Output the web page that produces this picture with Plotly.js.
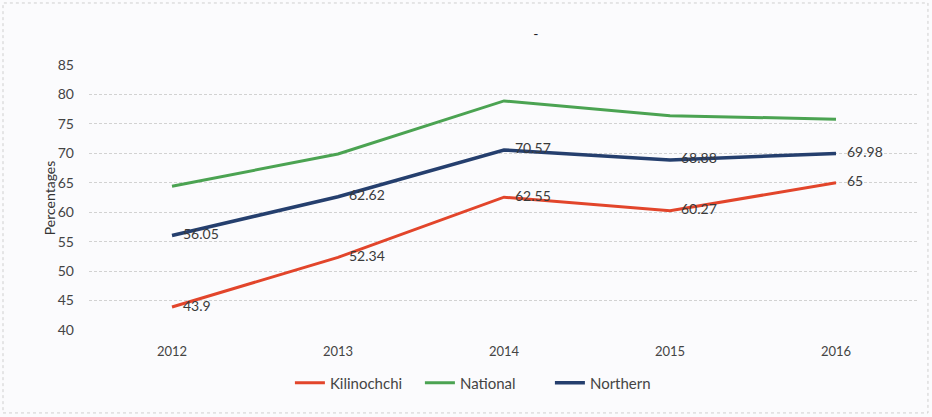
<!DOCTYPE html>
<html>
<head>
<meta charset="utf-8">
<script src="https://cdn.plot.ly/plotly-3.0.1.min.js"></script>
<style>html,body{margin:0;padding:0;background:#fbfbfd;}#chart{width:932px;height:417px;}</style>
</head>
<body>
<div id="chart"></div>
<script>
const years = ['2012', '2013', '2014', '2015', '2016'];
const kilinochchi = [43.9, 52.34, 62.55, 60.27, 65];
const national = [64.4, 69.9, 78.9, 76.4, 75.8];
const northern = [56.05, 62.62, 70.57, 68.88, 69.98];
const kilinochchiLabels = ['43.9', '52.34', '62.55', '60.27', '65'];
const northernLabels = ['56.05', '62.62', '70.57', '68.88', '69.98'];
const yTicks = [40, 45, 50, 55, 60, 65, 70, 75, 80, 85];

const labelFont = {family: 'Lato, "Open Sans", sans-serif', size: 14, color: '#3a3a3a'};
const hiddenMarker = {size: 16, opacity: 0};

const traces = [
  {x: years, y: kilinochchi, name: 'Kilinochchi', type: 'scatter', mode: 'lines',
   line: {color: '#e2452b', width: 3}},
  {x: years, y: national, name: 'National', type: 'scatter', mode: 'lines',
   line: {color: '#4ba352', width: 3}},
  {x: years, y: northern, name: 'Northern', type: 'scatter', mode: 'lines',
   line: {color: '#253f6e', width: 3.5}},
  {x: years, y: kilinochchi, type: 'scatter', mode: 'markers+text', showlegend: false,
   text: kilinochchiLabels, textposition: 'middle right', textfont: labelFont, marker: hiddenMarker},
  {x: years, y: northern, type: 'scatter', mode: 'markers+text', showlegend: false,
   text: northernLabels, textposition: 'middle right', textfont: labelFont, marker: hiddenMarker}
];

const layout = {
  width: 932, height: 417,
  paper_bgcolor: '#fbfbfd', plot_bgcolor: '#fbfbfd',
  margin: {l: 89, r: 13, t: 65, b: 87},
  font: {family: 'Lato, "Open Sans", sans-serif', size: 12, color: '#444'},
  title: {text: '-', x: 0.575, y: 0.93, font: {size: 14, color: '#222'}},
  xaxis: {type: 'category', range: [-0.5, 4.5], showgrid: false, zeroline: false,
          showline: false, ticks: '', ticklabelstandoff: 12,
          tickfont: {size: 13, color: '#444'}},
  yaxis: {range: [40, 85], tickvals: yTicks, showgrid: true, gridcolor: '#d2d2d2',
          griddash: '3px,2px', gridwidth: 1, zeroline: false, showline: false,
          ticks: '', ticklabelstandoff: 14, tickfont: {size: 14, color: '#444'}},
  showlegend: true,
  legend: {orientation: 'h', x: 0.477, xanchor: 'center', y: -0.2, yanchor: 'middle',
           entrywidth: 85, entrywidthmode: 'pixels',
           font: {size: 15, color: '#444'}, bgcolor: 'rgba(0,0,0,0)', traceorder: 'normal'},
  annotations: [
    {text: 'Percentages', xref: 'paper', yref: 'paper', x: -0.06, y: 0.5,
     showarrow: false, textangle: -90, font: {size: 14, color: '#333'}}
  ],
  shapes: [
    {type: 'rect', xref: 'paper', yref: 'paper', x0: -0.1036, x1: 1.0108, y0: -0.313, y1: 1.234,
     line: {width: 1, color: '#cfcfcf', dash: 'dot'}}
  ]
};

Plotly.newPlot('chart', traces, layout, {displayModeBar: false, staticPlot: true});
</script>
</body>
</html>
